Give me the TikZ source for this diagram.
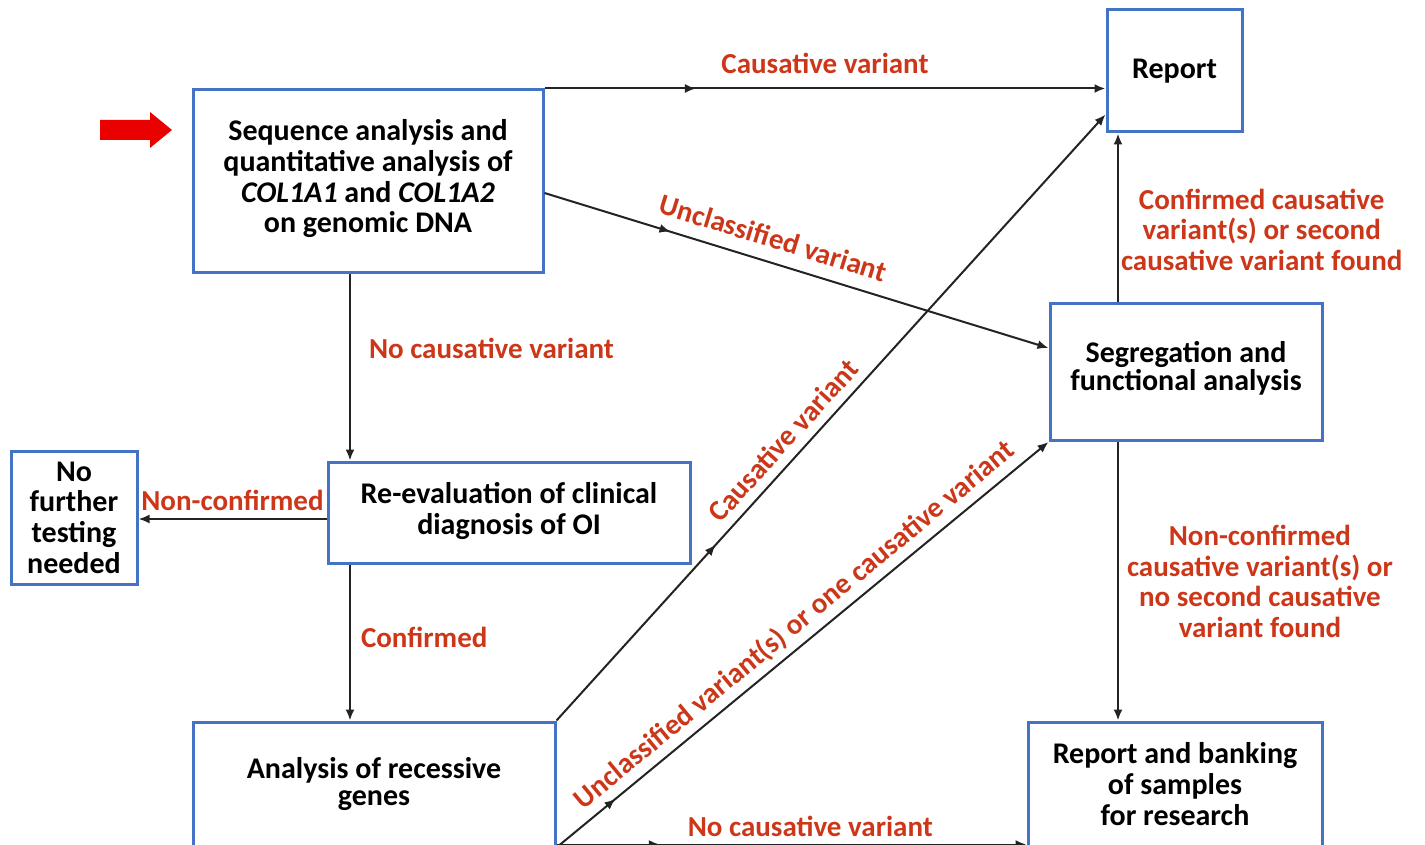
\documentclass[tikz,border=0pt]{standalone}
\usepackage{fontspec}
\setmainfont{Carlito}
\usetikzlibrary{calc,arrows.meta,decorations.markings}
\definecolor{boxblue}{RGB}{68,114,196}
\definecolor{labred}{RGB}{205,55,25}
\definecolor{arrred}{RGB}{235,0,0}
\definecolor{linegray}{RGB}{35,35,35}
\tikzset{
  box/.style={draw=boxblue, line width=3pt, fill=white, align=center, inner sep=2pt,
    font=\fontsize{30}{30.7}\selectfont\bfseries, text=black},
  conn/.style={draw=linegray, line width=2pt, -{Latex[length=11pt,width=9pt]}},
  midarrow/.style={postaction={decorate,decoration={markings,
    mark=at position #1 with {\arrow{Latex[length=11pt,width=9pt]}}}}},
  lab/.style={text=labred, font=\fontsize{29}{30.5}\selectfont\bfseries, align=center, inner sep=2pt},
}
\begin{document}
\begin{tikzpicture}[x=1pt,y=-1pt]
\useasboundingbox (0,0) rectangle (1425,845);
% boxes
\node[box, minimum width=350pt, minimum height=183pt] (A) at (368,181.5)
  {Sequence analysis and\\quantitative analysis of\\\textit{COL1A1} and \textit{COL1A2}\\on genomic DNA\\[-20pt]};
\node[box, minimum width=135pt, minimum height=122pt] (R) at (1174.5,71) {Report};
\node[box, minimum width=272pt, minimum height=137pt] (S) at (1186,372) {Segregation and\\[-3pt]functional analysis\\[-19pt]};
\node[box, minimum width=362pt, minimum height=101pt] (E) at (509,512.5) {Re-evaluation of clinical\\diagnosis of OI\\[-22pt]};
\node[box, minimum width=126pt, minimum height=133pt] (N) at (74,517.5) {No\\further\\testing\\needed};
\node[box, minimum width=362pt, minimum height=124pt] (C) at (374,784) {Analysis of recessive\\[-3pt]genes};
\node[box, minimum width=294pt, minimum height=124pt] (B) at (1175,784) {Report and banking\\of samples\\for research};
% start arrow
\fill[arrred] (100,120) -- (150,120) -- (150,112) -- (172,130) -- (150,148) -- (150,140) -- (100,140) -- cycle;
% helper coordinates
\coordinate (xl) at (350,0);
\coordinate (xr) at (1118,0);
\coordinate (a1) at ($(A.east)+(0,11.5)$);
\coordinate (s1) at ($(S.west)+(0,-24)$);
\coordinate (e1) at ($(E.west)+(0,6.5)$);
\coordinate (r1) at ($(R.south west)+(0,-19)$);
\coordinate (c1) at ($(C.south east)+(0,-3)$);
% connectors
\draw[conn, midarrow=0.27] (A.north east) -- (A.north east -| R.west)
  node[lab, pos=0.5, above=12pt] {Causative variant};
\draw[conn, midarrow=0.25] (a1) -- (s1)
  node[lab, pos=0.44, sloped, above=11pt] {Unclassified variant};
\draw[conn] (A.south -| xl) -- (E.north -| xl)
  node[lab, pos=0.4, right=16pt] {No causative variant};
\draw[conn] (e1) -- (e1 -| N.east)
  node[lab, pos=0.5, above=5pt] {Non-confirmed};
\draw[conn] (E.south -| xl) -- (C.north -| xl)
  node[lab, pos=0.47, right=8pt] {Confirmed};
\draw[conn, midarrow=0.29] (C.north east) -- (r1)
  node[lab, pos=0.44, sloped, above=7pt] {Causative variant};
\draw[conn, midarrow=0.12] (C.south east) -- (S.south west)
  node[lab, pos=0.51, sloped, above=4pt] {Unclassified variant(s) or one causative variant};
\draw[conn, midarrow=0.22] (c1) -- (c1 -| B.west)
  node[lab, pos=0.54, above=5pt] {No causative variant};
\draw[conn] (S.north -| xr) -- (R.south -| xr)
  node[lab, pos=0.43, right=0pt] {Confirmed causative\\variant(s) or second\\causative variant found};
\draw[conn] (S.south -| xr) -- (B.north -| xr)
  node[lab, pos=0.5, right=6pt] {Non-confirmed\\causative variant(s) or\\no second causative\\variant found};
\end{tikzpicture}
\end{document}
